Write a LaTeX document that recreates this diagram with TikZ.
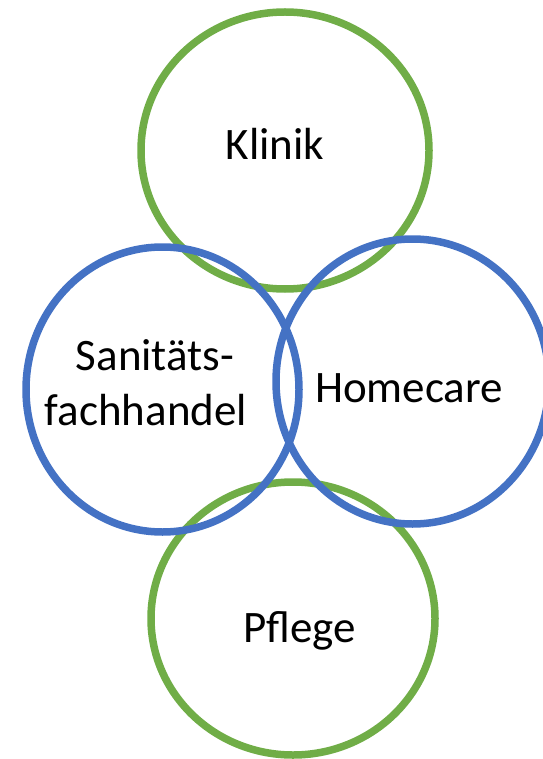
\documentclass[tikz,border=0pt]{standalone}
\usepackage{fontspec}
\setmainfont{Carlito}
\usetikzlibrary{shapes.geometric}

\definecolor{ringgreen}{HTML}{70AD47}
\definecolor{ringblue}{HTML}{4472C4}

\tikzset{
    ring/.style={ellipse, inner sep=0pt, line width=\Thickness},
    ringtext/.style={anchor=base, inner sep=0pt, font=\fontsize{45}{55}\selectfont},
}

\begin{document}
\begin{tikzpicture}[x=1pt,y=-1pt]
    \def\Thickness{7.5pt}
    \useasboundingbox (0,0) rectangle (542,759);
    \foreach \name/\x/\y/\rx/\ry/\col in {
        klinik/285/150.5/144/138.5/ringgreen,
        pflege/293/618.5/142/136.5/ringgreen,
        sanitaet/162.5/389.5/136.5/142.5/ringblue,
        homecare/412.5/381.5/136.5/142.5/ringblue}{
            \node [ring, draw=\col, minimum width={2*\rx pt}, minimum height={2*\ry pt}] (\name) at (\x,\y) {};
        }
    \node [ringtext] (klinikText) at (275,160) {Klinik};
    \node [ringtext] (sanitaetTextA) at (155,370) {Sanitäts-};
    \node [ringtext] (sanitaetTextB) at (146,425) {fachhandel};
    \node [ringtext] (homecareText) at (409,402) {Homecare};
    \node [ringtext] (pflegeText) at (299.5,642) {Pflege};
\end{tikzpicture}
\end{document}
